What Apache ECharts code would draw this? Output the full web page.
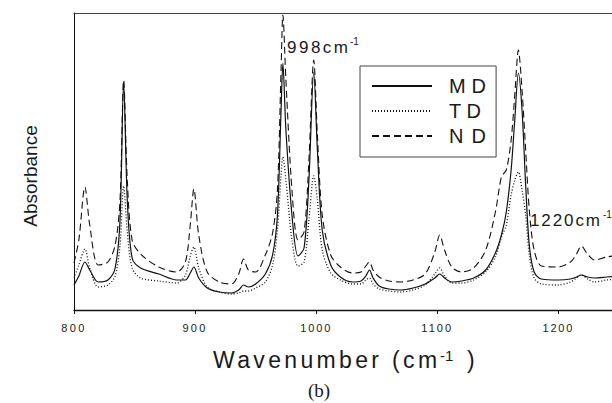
<!DOCTYPE html>
<html>
<head>
<meta charset="utf-8">
<script src="https://cdn.jsdelivr.net/npm/echarts@6/dist/echarts.min.js"></script>
<style>
html,body{margin:0;padding:0;background:#fff;}
#chart{width:612px;height:403px;}
</style>
</head>
<body>
<div id="chart"></div>
<script>
// ---- data ----
const wavenumber = [800,804,809,813,820,828,834,838,841,844,848,855,870,885,892,896,899,903,910,920,930,936,940,944,950,958,964,968,971,972.5,975,980,985,990,994,998,1001,1005,1012,1020,1030,1037,1041,1044,1047,1052,1060,1070,1080,1090,1098,1102,1106,1112,1120,1130,1140,1148,1153,1157,1161,1164,1167,1170,1173,1176,1180,1186,1200,1210,1215,1219,1224,1230,1240,1250];
const absMD = [25,34,48,40,28,30,42,90,228,110,52,42,36,30,30,37,43,32,22,18,17,20,25,23,26,36,55,95,200,247,180,95,54,62,130,238,160,80,45,33,28,29,34,40,32,24,21,20,22,26,32,36,32,28,29,32,40,57,75,98,140,190,237,200,125,65,38,31,30,31,33,35,33,32,33,34];
const absTD = [32,45,61,42,23,25,34,65,124,78,42,32,29,27,35,54,63,42,23,18,16,17,19,19,22,28,45,80,135,153,130,70,44,48,90,134,110,60,37,30,26,26,30,32,26,21,19,18,20,25,36,42,34,27,27,30,38,53,73,85,115,130,138,120,95,55,32,26,25,28,32,35,31,28,30,31];
const absND = [47,70,123,85,45,48,65,110,230,130,70,56,43,38,48,85,121,75,38,28,26,36,51,40,38,55,77,120,240,295,230,120,70,78,150,250,175,95,55,43,37,38,44,48,40,33,29,28,30,36,58,75,60,43,38,42,60,98,133,140,170,215,260,220,160,100,60,44,43,48,56,64,56,50,53,55];
const seriesNames = ['MD','TD','ND'];
const xTicks = [800,900,1000,1100,1200];
const xTitle = 'Wavenumber (cm';
const yTitle = 'Absorbance';
const peakLabels = ['998cm','1220cm'];

const pairs = v => wavenumber.map((w,i)=>[w, v[i]]);
const ink = '#1a1a1a';
const sans = 'Liberation Sans, Arial, sans-serif';

const chart = echarts.init(document.getElementById('chart'), null, {renderer:'svg'});
const lineBase = {type:'line', symbol:'none', smooth:0.3, animation:false, z:3};
chart.setOption({
  animation:false,
  backgroundColor:'#fff',
  grid:{left:74, top:13, right:0, height:297, show:false},
  xAxis:[{type:'value', min:800, max:1244.3, interval:100,
    axisLine:{lineStyle:{color:'#111', width:1.3}},
    axisTick:{length:4, lineStyle:{color:'#111'}},
    splitLine:{show:false},
    axisLabel:{margin:12, fontSize:11, color:ink, fontFamily:sans, showMaxLabel:false,
      formatter: v => xTicks.includes(v) ? String(v) : ''}
  },{type:'value', position:'top', min:800, max:1244.3,
    axisLine:{lineStyle:{color:'#444', width:1}},
    axisTick:{show:false}, axisLabel:{show:false}, splitLine:{show:false}
  }],
  yAxis:{type:'value', min:0, max:297,
    axisLine:{show:true, lineStyle:{color:'#111', width:1}},
    axisTick:{show:false}, axisLabel:{show:false}, splitLine:{show:false}
  },
  legend:{orient:'vertical', left:360, top:66, padding:[10,16,11,11],
    itemWidth:60, itemHeight:14, itemGap:5,
    borderColor:'#444', borderWidth:1,
    itemStyle:{opacity:0},
    textStyle:{fontSize:20, color:ink, fontFamily:sans, padding:[0,0,0,12]},
    data:seriesNames
  },
  series:[
    Object.assign({}, lineBase, {name:seriesNames[0], data:pairs(absMD), lineStyle:{color:'#111', width:1.2, type:'solid'}, itemStyle:{color:'#111'}}),
    Object.assign({}, lineBase, {name:seriesNames[1], data:pairs(absTD), lineStyle:{color:'#111', width:1.3, type:[1,2]}, itemStyle:{color:'#111'}}),
    Object.assign({}, lineBase, {name:seriesNames[2], data:pairs(absND), lineStyle:{color:'#111', width:1.1, type:[7,4]}, itemStyle:{color:'#111'}})
  ],
  graphic:[
    {type:'text', x:213, y:360, style:{text:xTitle, font:'23px '+sans, fill:ink, align:'left', verticalAlign:'middle'}},
    {type:'text', x:440, y:355, style:{text:'-1', font:'15px '+sans, fill:ink, align:'left', verticalAlign:'middle'}},
    {type:'text', x:467, y:360, style:{text:')', font:'23px '+sans, fill:ink, align:'left', verticalAlign:'middle'}},
    {type:'text', x:319, y:390, style:{text:'(b)', font:'19px Liberation Serif, Times New Roman, serif', fill:ink, align:'center', verticalAlign:'middle'}},
    {type:'text', x:30, y:176, rotation:Math.PI/2, style:{text:yTitle, font:'19px '+sans, fill:ink, align:'center', verticalAlign:'middle'}},
    {type:'text', x:287, y:47, style:{text:peakLabels[0], font:'17px '+sans, fill:ink, align:'left', verticalAlign:'middle'}},
    {type:'text', x:350, y:41, style:{text:'-1', font:'10px '+sans, fill:ink, align:'left', verticalAlign:'middle'}},
    {type:'text', x:530, y:220, style:{text:peakLabels[1], font:'17px '+sans, fill:ink, align:'left', verticalAlign:'middle'}},
    {type:'text', x:603, y:214, style:{text:'-1', font:'10px '+sans, fill:ink, align:'left', verticalAlign:'middle'}}
  ]
});

// the reference uses widely spaced lettering; fit each text to its measured width (measured once, then cached)
const targetWidth = {'Wavenumber (cm':224, '998cm':61, '1220cm':70, 'MD':37, 'TD':32, 'ND':37};
const spacingCache = {};
function applySpacing(){
  document.querySelectorAll('#chart text').forEach(t=>{
    const s = t.textContent.replace(/[\s\u00a0]+/g, ' ').trim();
    let target = targetWidth[s];
    if (/^\d{3,4}$/.test(s)) target = s.length === 3 ? 23 : 30;
    if (!target || s.length < 2) return;
    if (spacingCache[s] === undefined) {
      t.style.letterSpacing = '0px';
      const w0 = t.getComputedTextLength();
      spacingCache[s] = ((target - w0) / (s.length - 1)).toFixed(2) + 'px';
    }
    t.style.letterSpacing = spacingCache[s];
  });
}
applySpacing();
chart.on('finished', applySpacing);
requestAnimationFrame(applySpacing);
setTimeout(applySpacing, 50);
</script>
</body>
</html>
